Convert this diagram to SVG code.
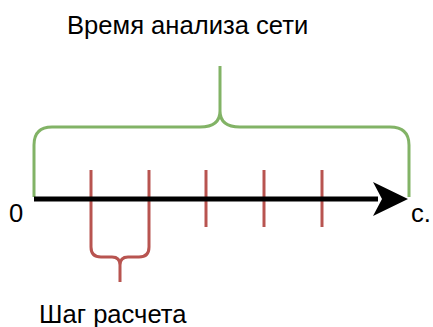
<svg xmlns="http://www.w3.org/2000/svg" width="433" height="327" viewBox="0 0 433 327">
<defs>
<style>
text{font-family:"Liberation Sans",Arial,sans-serif;font-size:25.6px;fill:#000}
.g{fill:none;stroke:#82b366;stroke-width:3}
.r{fill:none;stroke:#b85450;stroke-width:3}
</style>
</defs>
<rect width="433" height="327" fill="#fff"/>
<g id="ticks">
<line class="r" x1="91" y1="170" x2="91" y2="227"/>
<line class="r" x1="149" y1="170" x2="149" y2="227"/>
<line class="r" x1="206" y1="170" x2="206" y2="227"/>
<line class="r" x1="264" y1="170" x2="264" y2="227"/>
<line class="r" x1="322" y1="170" x2="322" y2="227"/>
</g>
<g id="step-brace">
<path class="r" d="M91,227 V247 Q91,257 101,257 H112 Q120,257 120,265 V282 M120,265 Q120,257 128,257 H139 Q149,257 149,247 V227"/>
</g>
<g id="total-brace">
<path class="g" d="M34,197 V145 Q34,127 52,127 H200 Q220,127 220,111 V66 M220,111 Q220,127 240,127 H390 Q409,127 409,145 V197"/>
</g>
<g id="connectors">
<line x1="34" y1="199" x2="378" y2="199" stroke="#000" stroke-width="5"/>
<path d="M408,199 L373,182 L382,199 L373,216 Z" fill="#000"/>
</g>
<g id="labels">
<text x="67" y="34">Время анализа сети</text>
<text x="39" y="323">Шаг расчета</text>
<text x="9" y="222">0</text>
<text x="411" y="222">с.</text>
</g>
</svg>
